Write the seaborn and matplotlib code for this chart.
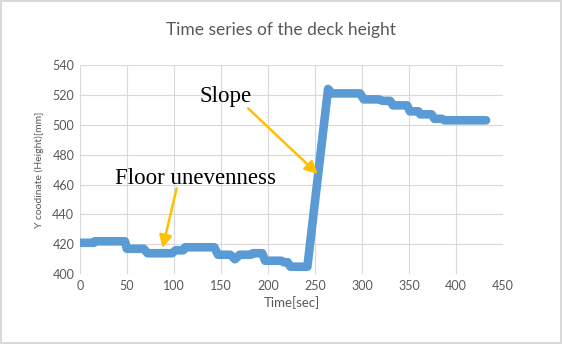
import numpy as np
import pandas as pd
import matplotlib
matplotlib.use("Agg")
import matplotlib.pyplot as plt
import seaborn as sns

# step-like deck height readings
time_sec = [0, 15, 16, 48, 50, 68, 72, 98, 102, 110, 112, 143, 147, 160, 165, 170, 172, 182,
            184, 194, 197, 214, 217, 221, 224, 242, 264, 268, 298, 302, 318, 322, 330,
            333, 348, 351, 360, 362, 374, 377, 385, 388, 432]
height_mm = [421, 421, 422, 422, 417, 417, 414, 414, 416, 416, 418, 418, 413, 413, 410, 413, 413, 413,
             414, 414, 409, 409, 408, 408, 405, 405, 524, 521, 521, 517, 517, 516, 516,
             513, 513, 509, 509, 507, 507, 504, 504, 503, 503]

x_ticks = [0, 50, 100, 150, 200, 250, 300, 350, 400, 450]
y_ticks = [400, 420, 440, 460, 480, 500, 520, 540]

df = pd.DataFrame({'time': time_sec, 'height': height_mm})

sns.set_theme(style='whitegrid')
plt.rcParams['font.family'] = ['Lato', 'DejaVu Sans']

fig = plt.figure(figsize=(5.62, 3.44), dpi=100)
fig.patch.set_edgecolor('#d9d9d9')
fig.patch.set_linewidth(1.5)
ax = fig.add_axes([0.142, 0.203, 0.753, 0.608])

sns.lineplot(data=df, x='time', y='height', ax=ax, color='#5b9bd5', linewidth=6.2,
             solid_joinstyle='round', solid_capstyle='round')

ax.set_xlim(0, 450)
ax.set_ylim(400, 540)
ax.set_xticks(x_ticks)
ax.set_yticks(y_ticks)
ax.grid(True, color='#d9d9d9', linewidth=0.8)
for s in ax.spines.values():
    s.set_visible(False)
ax.tick_params(axis='both', labelsize=9, labelcolor='#595959', length=0, pad=4)
ax.set_xlabel('Time[sec]', fontsize=9.5, color='#595959', labelpad=3)
ax.set_ylabel('Y coodinate (Height)[mm]', fontsize=7.5, color='#595959', labelpad=6)
fig.suptitle('Time series of the deck height', fontsize=12.5, color='#595959', y=0.935)

# callouts
arrow = dict(arrowstyle='-|>', color='#ffc000', lw=1.8, mutation_scale=19,
             shrinkA=0, shrinkB=0)
ax.text(155, 519, 'Slope', fontsize=16.5, family='Liberation Serif', color='black',
        ha='center', va='center')
ax.annotate('', xy=(253, 467), xytext=(179, 511), arrowprops=arrow)
ax.text(123, 464, 'Floor unevenness', fontsize=16.5, family='Liberation Serif',
        color='black', ha='center', va='center')
ax.annotate('', xy=(88, 417.5), xytext=(103, 457.5), arrowprops=arrow)

fig.savefig('out.png', dpi=100, edgecolor=fig.get_edgecolor())
